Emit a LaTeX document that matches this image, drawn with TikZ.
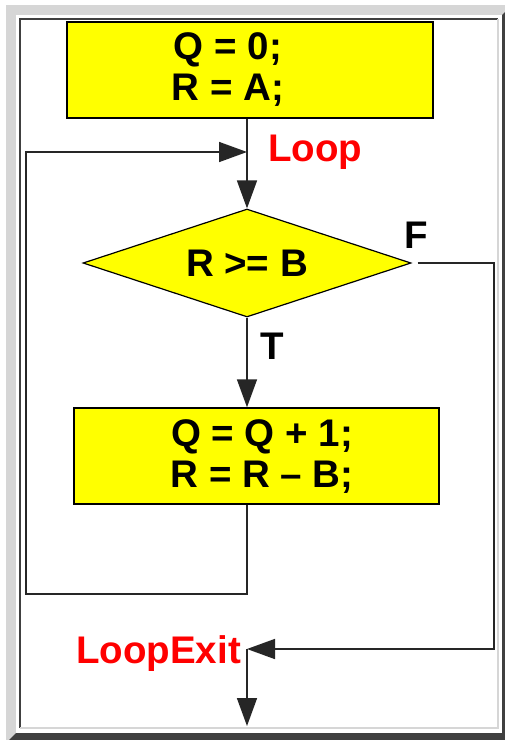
\documentclass[tikz,border=0pt]{standalone}
\usepackage{fontspec}
\setmainfont{Liberation Sans}
\usepackage{xcolor}
\usepackage{tikz}
\usetikzlibrary{shapes,arrows.meta}

\definecolor{framelight}{HTML}{D6D6D6}
\definecolor{framedark}{HTML}{404040}
\definecolor{boxyellow}{HTML}{FFFF00}

\begin{document}
\begin{tikzpicture}[
    x=1pt, y=-1pt,
    font=\fontsize{38.5}{41}\selectfont\bfseries,
    box/.style={rectangle, draw=black, line width=1.5pt, fill=boxyellow, minimum width=365pt, minimum height=96pt, inner sep=0pt},
    decision/.style={diamond, draw=black, line width=1.2pt, fill=boxyellow, aspect=3, minimum width=328pt, minimum height=108pt, inner sep=0pt},
    code/.style={align=center, inner sep=0pt},
    tag/.style={inner sep=0pt, anchor=base west},
    arrow/.style={-{Triangle[length=28pt,width=20pt]}, line width=1.6pt, draw=black!85},
    line/.style={line width=1.6pt, draw=black!85}
]
    \useasboundingbox (0,0) rectangle (505,740);
    % frame
    \fill[framelight] (6,5) rectangle (505,740);
    \fill[framedark] (502,15) -- (512,5) -- (512,743) -- (6,743) -- (16,733) -- (502,733) -- cycle;
    \fill[white] (16,15) rectangle (502,733);
    \draw[framedark, line width=2pt] (20,728) -- (20,19) -- (498,19);
    \draw[framelight, line width=2pt] (498,19) -- (498,728) -- (20,728);

    \node[box, minimum width=366pt] (init) at (250,70) {};
    \node[code] (initText) at (228,70) {Q = 0;\\R = A;};
    \node[decision] (test) at (247,263) {R >= B};
    \node[box] (body) at (256.5,456) {};
    \node[code] (bodyText) at (262,457) {Q = Q + 1;\\R = R -- B;};

    \node[tag, text=red] (loopLbl) at (268,161) {Loop};
    \node[tag] (fLbl) at (404,248) {F};
    \node[tag] (tLbl) at (260,359) {T};
    \node[tag, text=red] (exitLbl) at (76,663) {LoopExit};

    \coordinate (loop) at (247,152);
    \coordinate (back) at (26,594);
    \coordinate (fcorner) at (494,649);
    \coordinate (exit) at (247,649);
    \coordinate (out) at (247,726);

    \draw[line] (test.north |- init.south) -- (loop);
    \draw[arrow] (loop) -- (test.north);
    \draw[arrow] (test.south) -- (test.south |- body.north);
    \draw[arrow] (test.south |- body.south) |- (back) |- (loop);
    \draw[arrow, shorten <=6pt] (test.east) -| (fcorner) -- (exit);
    \draw[arrow] (exit) -- (out);
\end{tikzpicture}
\end{document}
